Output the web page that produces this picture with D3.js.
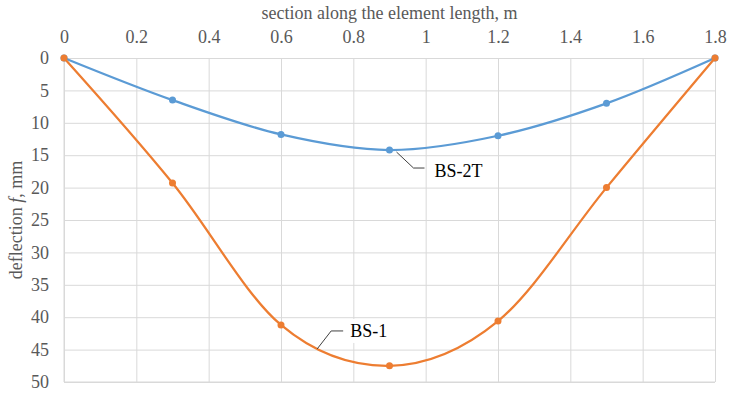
<!DOCTYPE html>
<html>
<head>
<meta charset="utf-8">
<script src="https://cdn.jsdelivr.net/npm/d3@7"></script>
<style>
  body { margin: 0; background: #fff; }
  svg text { font-family: "Liberation Serif", Tinos, "Times New Roman", "DejaVu Serif", serif !important; }
</style>
</head>
<body>
<svg id="myGraph" width="730" height="393"></svg>
<script>
var svgWidth = 730;
var svgHeight = 393;

var sections = [0, 0.3, 0.6, 0.9, 1.2, 1.5, 1.8];
var deflectionBS2T = [0, 6.5, 11.8, 14.2, 12.0, 7.0, 0];
var deflectionBS1 = [0, 19.3, 41.2, 47.5, 40.6, 20.0, 0];
var xTicks = [0, 0.2, 0.4, 0.6, 0.8, 1, 1.2, 1.4, 1.6, 1.8];
var yTicks = [0, 5, 10, 15, 20, 25, 30, 35, 40, 45, 50];

var margin = { top: 58, right: 15, bottom: 11, left: 64 };
var width = svgWidth - margin.left - margin.right;
var height = svgHeight - margin.top - margin.bottom;

var svg = d3.select('#myGraph');
var g = svg.append('g')
  .attr('transform', 'translate(' + margin.left + ',' + margin.top + ')');

var xScale = d3.scaleLinear().domain([0, 1.8]).range([0, width]);
var yScale = d3.scaleLinear().domain([0, 50]).range([0, height]);

// axes with gridlines
var xAxis = g.append('g')
  .call(d3.axisTop(xScale).tickValues(xTicks).tickSize(-height).tickPadding(15)
    .tickFormat(function(d) { return d3.format('')(d); }));
var yAxis = g.append('g')
  .call(d3.axisLeft(yScale).tickValues(yTicks).tickSize(-width).tickPadding(15));

[xAxis, yAxis].forEach(function(a) {
  a.attr('font-family', null).attr('font-size', null);
  a.select('.domain').remove();
  a.selectAll('line').attr('stroke', '#d9d9d9').attr('stroke-width', 1);
  a.selectAll('text')
    .attr('fill', '#595959')
    .style('font-size', '18px');
});

// plot border lines (left and bottom)
g.append('line').attr('x1', 0).attr('x2', 0).attr('y1', 0).attr('y2', height)
  .attr('stroke', '#d9d9d9');
g.append('line').attr('x1', 0).attr('x2', width).attr('y1', height).attr('y2', height)
  .attr('stroke', '#d9d9d9');

// axis titles
svg.append('text')
  .attr('x', margin.left + width / 2)
  .attr('y', 19)
  .attr('text-anchor', 'middle')
  .attr('fill', '#595959')
  .style('font-size', '18px')
  .text('section along the element length, m');

var yTitle = svg.append('text')
  .attr('transform', 'translate(22,' + (margin.top + height / 2) + ') rotate(-90)')
  .attr('text-anchor', 'middle')
  .attr('fill', '#595959')
  .style('font-size', '18px');
yTitle.append('tspan').text('deflection ');
yTitle.append('tspan').style('font-style', 'italic').text('f');
yTitle.append('tspan').text(', mm');

var series = [
  { name: 'BS-2T', values: deflectionBS2T, color: '#5b9bd5' },
  { name: 'BS-1', values: deflectionBS1, color: '#ed7d31' }
];

var line = d3.line()
  .x(function(d) { return xScale(d[0]); })
  .y(function(d) { return yScale(d[1]); })
  .curve(d3.curveCardinal.tension(0));

series.forEach(function(s) {
  var pts = sections.map(function(x, i) { return [x, s.values[i]]; });
  g.append('path')
    .datum(pts)
    .attr('fill', 'none')
    .attr('stroke', s.color)
    .attr('stroke-width', 2.25)
    .attr('d', line);
  g.selectAll(null)
    .data(pts)
    .enter()
    .append('circle')
    .attr('cx', function(d) { return xScale(d[0]); })
    .attr('cy', function(d) { return yScale(d[1]); })
    .attr('r', 3.5)
    .attr('fill', s.color);
});

// data labels with leader lines
function addLabel(xv, yv, pts, tx, ty, label) {
  var x0 = xScale(xv), y0 = yScale(yv);
  g.append('polyline')
    .attr('points', pts.map(function(p) { return (x0 + p[0]) + ',' + (y0 + p[1]); }).join(' '))
    .attr('fill', 'none')
    .attr('stroke', '#404040')
    .attr('stroke-width', 1);
  var bg = g.append('rect').attr('fill', '#fff');
  var t = g.append('text')
    .attr('x', x0 + tx)
    .attr('y', y0 + ty)
    .attr('fill', '#000')
    .style('font-size', '18px')
    .text(label);
  var b = t.node().getBBox();
  bg.attr('x', b.x - 6).attr('y', b.y - 2).attr('width', b.width + 10).attr('height', b.height + 4);
}

addLabel(0.9, deflectionBS2T[3], [[7, 2], [24, 18], [35, 18]], 45, 27, 'BS-2T');
addLabel(0.7, 44.9, [[0, 0], [14, -18], [26, -18]], 33, -12, 'BS-1');
</script>
</body>
</html>
